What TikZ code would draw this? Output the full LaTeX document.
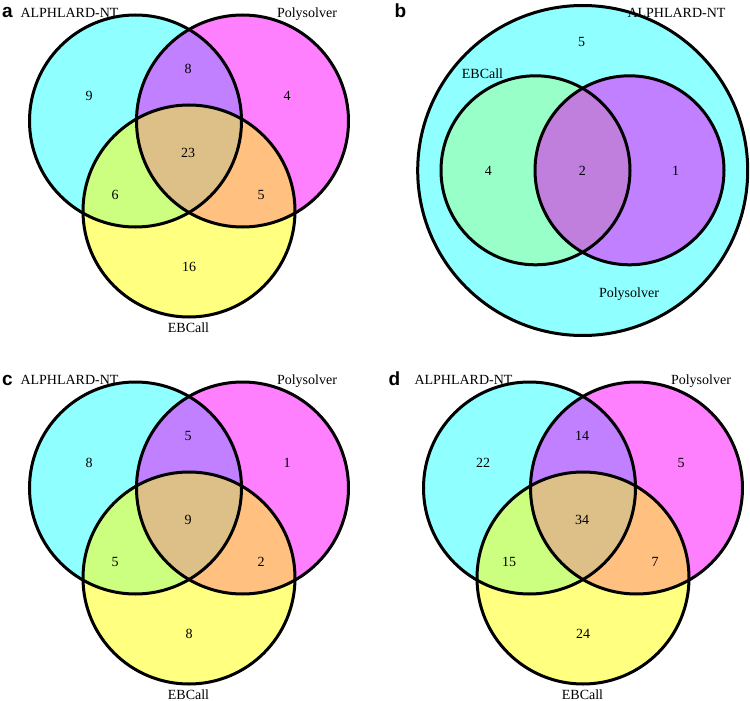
\documentclass[tikz,border=0pt]{standalone}
\usepackage{fontspec}
\setmainfont{Liberation Serif}
\newfontfamily\lettfont{Liberation Sans}
\definecolor{cyanA}{HTML}{8FFFFF}
\definecolor{magA}{HTML}{FF80FF}
\definecolor{yelA}{HTML}{FFFF80}
\definecolor{purA}{HTML}{C080FF}
\definecolor{grnA}{HTML}{CCFF80}
\definecolor{orgA}{HTML}{FFC080}
\definecolor{tanA}{HTML}{DDBF88}
\definecolor{grnB}{HTML}{99FFC8}
\definecolor{midB}{HTML}{C07FDD}
\tikzset{
  outline/.style={draw=black,line width=3pt},
  lbl/.style={font=\fontsize{14}{16}\selectfont,inner sep=0pt,anchor=base},
  num/.style={font=\fontsize{14}{16}\selectfont,inner sep=0pt},
  panel/.style={font=\lettfont\bfseries\fontsize{19}{21}\selectfont,inner sep=0pt,anchor=base}
}
\newcommand\vennthree[8]{%
  \fill[cyanA] (135.5,121) circle[radius=106pt];
  \fill[magA] (242.5,121) circle[radius=106pt];
  \fill[yelA] (189,211) circle[radius=106pt];
  \begin{scope}
    \clip (242.5,121) circle[radius=106pt];
    \fill[orgA] (189,211) circle[radius=106pt];
  \end{scope}
  \begin{scope}
    \clip (135.5,121) circle[radius=106pt];
    \fill[purA] (242.5,121) circle[radius=106pt];
    \fill[grnA] (189,211) circle[radius=106pt];
    \clip (242.5,121) circle[radius=106pt];
    \fill[tanA] (189,211) circle[radius=106pt];
  \end{scope}
  \draw[outline] (135.5,121) circle[radius=106pt];
  \draw[outline] (242.5,121) circle[radius=106pt];
  \draw[outline] (189,211) circle[radius=106pt];
  \node[lbl] (#1alph) at (69.5,17.5) {ALPHLARD-NT};
  \node[lbl] (#1poly) at (307,17.5) {Polysolver};
  \node[lbl] (#1ebc) at (188.5,332) {EBCall};
  \node[num] (#1n1) at (89,96) {#2};
  \node[num] (#1n2) at (188,69) {#3};
  \node[num] (#1n3) at (287,96) {#4};
  \node[num] (#1n4) at (188,153) {#5};
  \node[num] (#1n5) at (115,195) {#6};
  \node[num] (#1n6) at (261,195) {#7};
  \node[num] (#1n7) at (189,267) {#8};
}
\begin{document}
\begin{tikzpicture}[x=1pt,y=-1pt]
  \useasboundingbox (0,0) rectangle (750,701);
  \fill[white] (0,0) rectangle (750,701);
  % panel a
  \vennthree{a}{9}{8}{4}{23}{6}{5}{16}
  \node[panel] (la) at (7.5,18) {a};
  % panel c
  \begin{scope}[shift={(0,367)}]
    \vennthree{c}{8}{5}{1}{9}{5}{2}{8}
    \node[panel] (lc) at (7.5,18) {c};
  \end{scope}
  % panel d
  \begin{scope}[shift={(394,367)}]
    \vennthree{d}{22}{14}{5}{34}{15}{7}{24}
    \node[panel] (ld) at (0.5,18) {d};
  \end{scope}
  % panel b
  \fill[cyanA] (582.7,170.5) circle[radius=165pt];
  \fill[grnB] (535.5,170.3) circle[radius=94.5pt];
  \fill[purA] (629.5,170.3) circle[radius=94.5pt];
  \begin{scope}
    \clip (535.5,170.3) circle[radius=94.5pt];
    \fill[midB] (629.5,170.3) circle[radius=94.5pt];
  \end{scope}
  \draw[outline] (582.7,170.5) circle[radius=165pt];
  \draw[outline] (535.5,170.3) circle[radius=94.5pt];
  \draw[outline] (629.5,170.3) circle[radius=94.5pt];
  \node[panel] (lb) at (400.5,18) {b};
  \node[lbl] (balph) at (676.5,17.5) {ALPHLARD-NT};
  \node[lbl] (bebc) at (482.5,79) {EBCall};
  \node[lbl] (bpoly) at (629,297) {Polysolver};
  \node[num] (bn1) at (581.7,41.7) {5};
  \node[num] (bn2) at (488.3,170.7) {4};
  \node[num] (bn3) at (582.3,170.7) {2};
  \node[num] (bn4) at (675.7,170.7) {1};
\end{tikzpicture}
\end{document}
